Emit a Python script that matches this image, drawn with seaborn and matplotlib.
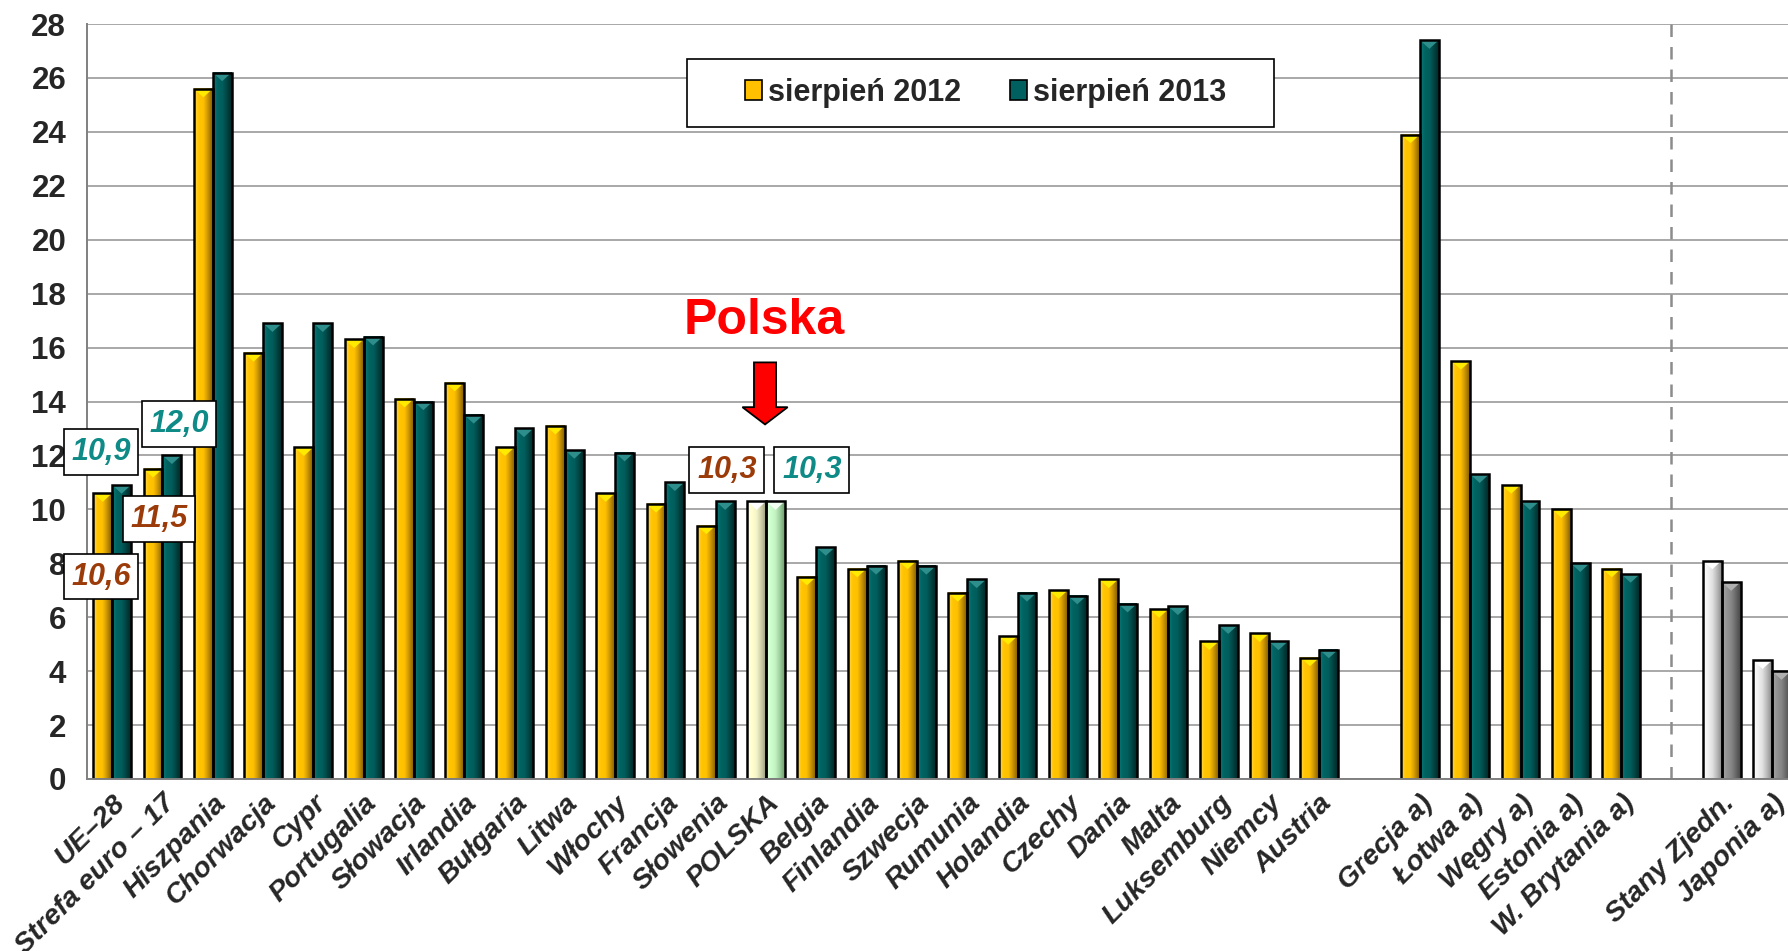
import numpy as np
import pandas as pd
import seaborn as sns
import matplotlib
matplotlib.use('Agg')
from matplotlib import pyplot as plt
from matplotlib.patches import Patch, Polygon, FancyArrow, Rectangle
from matplotlib.colors import LinearSegmentedColormap
from matplotlib.transforms import ScaledTranslation

# dane: stopa bezrobocia (%)
eu_countries = ['UE–28', 'Strefa euro – 17', 'Hiszpania', 'Chorwacja', 'Cypr', 'Portugalia',
                'Słowacja', 'Irlandia', 'Bułgaria', 'Litwa', 'Włochy', 'Francja', 'Słowenia',
                'POLSKA', 'Belgia', 'Finlandia', 'Szwecja', 'Rumunia', 'Holandia', 'Czechy',
                'Dania', 'Malta', 'Luksemburg', 'Niemcy', 'Austria']
eu_2012 = [10.6, 11.5, 25.6, 15.8, 12.3, 16.3, 14.1, 14.7, 12.3, 13.1, 10.6, 10.2, 9.4,
           10.3, 7.5, 7.8, 8.1, 6.9, 5.3, 7.0, 7.4, 6.3, 5.1, 5.4, 4.5]
eu_2013 = [10.9, 12.0, 26.2, 16.9, 16.9, 16.4, 14.0, 13.5, 13.0, 12.2, 12.1, 11.0, 10.3,
           10.3, 8.6, 7.9, 7.9, 7.4, 6.9, 6.8, 6.5, 6.4, 5.7, 5.1, 4.8]

a_countries = ['Grecja a)', 'Łotwa a)', 'Węgry a)', 'Estonia a)', 'W. Brytania a)']
a_2012 = [23.9, 15.5, 10.9, 10.0, 7.8]
a_2013 = [27.4, 11.3, 10.3, 8.0, 7.6]

other_countries = ['Stany Zjedn.', 'Japonia a)']
other_2012 = [8.1, 4.4]
other_2013 = [7.3, 4.0]

years = ['sierpień 2012', 'sierpień 2013']

GAP1, GAP2 = ' ', '  '
order = eu_countries + [GAP1] + a_countries + [GAP2] + other_countries

names = eu_countries + a_countries + other_countries
df = pd.DataFrame({
    'kraj': names * 2,
    'okres': [years[0]] * len(names) + [years[1]] * len(names),
    'stopa': eu_2012 + a_2012 + other_2012 + eu_2013 + a_2013 + other_2013,
})

# gradienty słupków (lewa krawędź -> prawa)
shades = {
    'gold': ['#FFD84A', '#FFC400', '#FFC000', '#C89200', '#7E5C00'],
    'teal': ['#0A7A78', '#006462', '#005E5C', '#004442', '#002828'],
    'cream': ['#FFFFE6', '#FFFFD0', '#F5F5C8', '#CFCFA8', '#9C9C80'],
    'mint': ['#E6FFE6', '#CCFFCC', '#C4F2C4', '#9ACB9A', '#6E9C6E'],
    'lgray': ['#FFFFFF', '#F2F2F2', '#E0E0E0', '#B8B8B8', '#8A8A8A'],
    'dgray': ['#A8A8A8', '#939393', '#868686', '#666666', '#454545'],
}
bevel = {'gold': '#FFEA00', 'teal': '#2E8E8C', 'cream': '#FFFFFF', 'mint': '#F4FFF4',
         'lgray': '#FFFFFF', 'dgray': '#B0B0B0'}


def bar_style(name, hue_idx):
    if name == 'POLSKA':
        return ['cream', 'mint'][hue_idx]
    if name in other_countries:
        return ['lgray', 'dgray'][hue_idx]
    return ['gold', 'teal'][hue_idx]


sns.set_style('white')
plt.rcParams['font.family'] = ['Liberation Sans', 'DejaVu Sans']

fig = plt.figure(figsize=(17.88, 9.51), dpi=100)
ax = fig.add_axes([87 / 1788, 1 - 779 / 951, 34 * 50.3 / 1788, 755 / 951])

sns.barplot(data=df, x='kraj', y='stopa', hue='okres', order=order, hue_order=years,
            width=0.75, errorbar=None, edgecolor='black', linewidth=1.8,
            legend=False, ax=ax)

grad = np.linspace(0, 1, 64).reshape(1, -1)
for hue_idx, cont in enumerate(ax.containers):
    for bar in cont:
        x0, w, h = bar.get_x(), bar.get_width(), bar.get_height()
        if not np.isfinite(h) or h == 0:
            continue
        idx = int(round(x0 + w / 2))
        style = bar_style(order[idx], hue_idx)
        cmap = LinearSegmentedColormap.from_list(style, shades[style])
        ax.imshow(grad, cmap=cmap, extent=[x0, x0 + w, 0, h], aspect='auto',
                  interpolation='bilinear', zorder=1.5)
        d = 0.32
        ax.add_patch(Polygon([[x0, h], [x0 + w, h], [x0 + w / 2, h - d]],
                             closed=True, fc=bevel[style], ec='none', zorder=1.7))
        bar.set_facecolor('none')
        bar.set_zorder(2)

ax.set_xlim(-0.5, len(order) - 0.5)
ax.set_ylim(0, 28)
ax.set_yticks(np.arange(0, 29, 2))
ax.set_axisbelow(True)
ax.yaxis.grid(True, color='#A8A8A8', lw=1.4)
ax.xaxis.grid(False)

ax.set_xticks(range(len(order)))
ax.set_xticklabels(order, rotation=45, ha='right', rotation_mode='anchor',
                   fontsize=20.5, fontweight='bold', fontstyle='italic')
shift = ScaledTranslation(-0.04, 0, fig.dpi_scale_trans)
for lab in ax.get_xticklabels():
    lab.set_transform(lab.get_transform() + shift)
ax.set_xticks(np.arange(-0.5, len(order), 1), minor=True)
ax.tick_params(axis='x', which='major', length=0, pad=8)
ax.tick_params(axis='x', which='minor', length=8, width=1.2, color='#808080', direction='out')
ax.tick_params(axis='y', length=9, width=1.2, color='#808080', direction='out', pad=6,
               labelsize=22.5)
for lab in ax.get_yticklabels():
    lab.set_fontweight('bold')
ax.set_xlabel('')
ax.set_ylabel('')

for s in ['top', 'right']:
    ax.spines[s].set_visible(False)
for s in ['left', 'bottom']:
    ax.spines[s].set_color('#808080')
    ax.spines[s].set_linewidth(1.4)

# linia oddzielająca
ax.axvline(order.index(GAP2), color='#8C8C8C', ls=(0, (5, 4)), lw=1.8, zorder=1)

# etykiety wartości
c12, c13 = '#9C3B0A', '#0E8A87'
value_boxes = [
    ('UE–28', 0, -0.22, 7.5),
    ('UE–28', 1, -0.22, 12.13),
    ('Strefa euro – 17', 0, 0.93, 9.64),
    ('Strefa euro – 17', 1, 1.33, 13.17),
    ('POLSKA', 0, 12.22, 11.46),
    ('POLSKA', 1, 13.91, 11.46),
]
for name, hue_idx, tx, ty in value_boxes:
    i = eu_countries.index(name)
    v = [eu_2012, eu_2013][hue_idx][i]
    ax.text(tx, ty, f'{v:.1f}'.replace('.', ','), ha='center', va='center',
            fontsize=22, fontweight='bold', fontstyle='italic',
            color=[c12, c13][hue_idx], zorder=5,
            bbox=dict(boxstyle='square,pad=0.25', fc='white', ec='black', lw=1.2))

# Polska + strzałka
pl = order.index('POLSKA')
ax.text(pl - 0.04, 16.98, 'Polska', ha='center', va='center', fontsize=36,
        fontweight='bold', color='#FF0000')
ax.add_patch(FancyArrow(pl - 0.02, 15.45, 0, -2.3, width=0.44, head_width=0.9,
                        head_length=0.64, length_includes_head=True,
                        fc='#FF0000', ec='black', lw=1.3, zorder=5))

# legenda (ramka rysowana osobno, szersza niż domyślna)
ax.add_patch(Rectangle((687 / 1788, 1 - 127 / 951), 587 / 1788, 68 / 951,
                       transform=fig.transFigure, fc='white', ec='black',
                       lw=1.2, zorder=4, clip_on=False))
handles = [Patch(fc='#FFC000', ec='black', lw=1.2), Patch(fc='#006060', ec='black', lw=1.2)]
leg = ax.legend(handles, years, loc='center', bbox_to_anchor=(0.5255, 0.909), ncol=2,
                fontsize=22, frameon=False,
                handlelength=0.55, handleheight=0.6, handletextpad=0.2,
                columnspacing=1.6, borderpad=0.3)
leg.set_zorder(6)
for t in leg.get_texts():
    t.set_fontweight('bold')

fig.savefig('out.png', dpi=100)
